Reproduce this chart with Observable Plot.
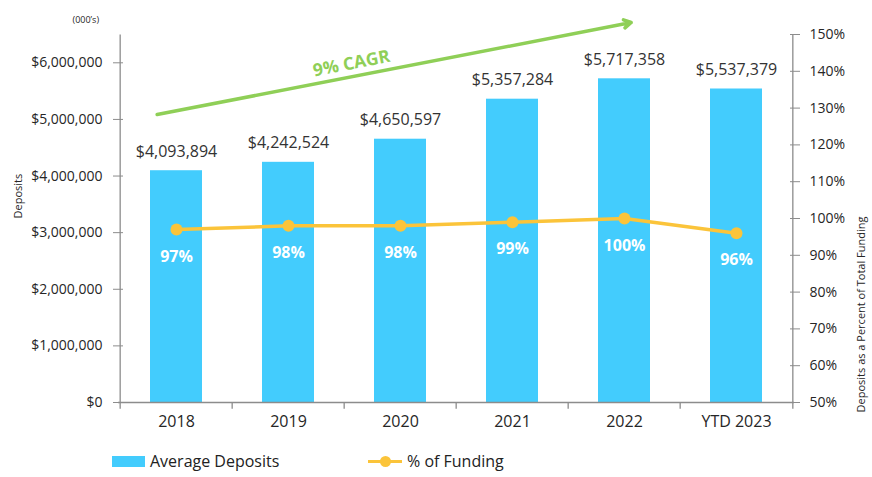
<!DOCTYPE html>
<html>
<head>
<meta charset="utf-8">
<script src="https://cdn.jsdelivr.net/npm/d3@7"></script>
<script src="https://cdn.jsdelivr.net/npm/@observablehq/plot@0.6"></script>
<style>
  html, body { margin: 0; padding: 0; background: #fff; }
  body { font-family: "Open Sans", sans-serif; width: 872px; height: 477px; overflow: hidden; }
  #wrap { position: relative; width: 872px; }
  .legend { position: relative; height: 37px; font-size: 16px; color: #222; }
  .legend .item { position: absolute; top: 10px; display: flex; align-items: center; gap: 5px; }
  .sw-bar { width: 33px; height: 11px; background: #43ccfd; }
  .sw-line { position: relative; width: 34px; height: 12px; }
  .sw-line::before { content: ""; position: absolute; left: 0; right: 0; top: 5px; height: 3px; background: #fbc43a; }
  .sw-line::after { content: ""; position: absolute; left: 12px; top: 1px; width: 11px; height: 11px; border-radius: 50%; background: #fbc43a; }
</style>
</head>
<body>
<div id="wrap"></div>
<script>
const categories = ["2018", "2019", "2020", "2021", "2022", "YTD 2023"];
const deposits = [4093894, 4242524, 4650597, 5357284, 5717358, 5537379];
const pctFunding = [97, 98, 98, 99, 100, 96];
const leftTicks = [0, 1000000, 2000000, 3000000, 4000000, 5000000, 6000000];
const rightTicks = [50, 60, 70, 80, 90, 100, 110, 120, 130, 140, 150];
const depositMax = 6500000;
const pctMin = 50, pctMax = 150;
const cagrLabel = "9% CAGR";
const cagrArrow = [{x1: "2018", y1: 5152000, x2: "2022", y2: 6689000}];

const pctToY = p => (p - pctMin) / (pctMax - pctMin) * depositMax;
const rows = categories.map((c, i) => ({cat: c, dep: deposits[i], pct: pctFunding[i], py: pctToY(pctFunding[i])}));

const W = 872, H = 440, ML = 118, MR = 78, MT = 34, MB = 38;
const half = (W - ML - MR) / categories.length / 2;
const blue = "#43ccfd", gold = "#fbc43a", green = "#8fcf57", axisColor = "#8c8c8c", textColor = "#262626";

const chart = Plot.plot({
  width: W, height: H,
  marginLeft: ML, marginRight: MR, marginTop: MT, marginBottom: MB,
  style: {fontFamily: "Open Sans, sans-serif", background: "#fff", color: textColor, overflow: "visible"},
  x: {domain: categories, paddingInner: 0.54, paddingOuter: 0.27},
  y: {domain: [0, depositMax]},
  marks: [
    Plot.barY(rows, {x: "cat", y: "dep", fill: blue}),
    // axes lines
    Plot.ruleY([0], {stroke: axisColor, strokeWidth: 1.3}),
    Plot.link([categories[0]], {x1: d => d, x2: d => d, y1: 0, y2: depositMax, dx: -half, stroke: axisColor, strokeWidth: 1.3}),
    Plot.link([categories[categories.length - 1]], {x1: d => d, x2: d => d, y1: 0, y2: depositMax, dx: half, stroke: axisColor, strokeWidth: 1.3}),
    // category boundary ticks
    Plot.link(categories, {x1: d => d, x2: d => d, y1: 0, y2: -110000, dx: -half, stroke: axisColor, strokeWidth: 1.3}),
    Plot.link([categories[categories.length - 1]], {x1: d => d, x2: d => d, y1: 0, y2: -110000, dx: half, stroke: axisColor, strokeWidth: 1.3}),
    Plot.axisX({tickSize: 0, tickPadding: 13, fontSize: 16, label: null, fill: textColor}),
    Plot.axisY({anchor: "left", ticks: leftTicks, tickFormat: d3.format("$,"), tickSize: 10, dx: 5, tickPadding: 11,
      fontSize: 14, label: null, stroke: axisColor, fill: textColor}),
    Plot.axisY({anchor: "right", ticks: rightTicks.map(pctToY),
      tickFormat: v => Math.round(v / depositMax * (pctMax - pctMin) + pctMin) + "%",
      tickSize: 10, dx: -5, tickPadding: 10, fontSize: 14, label: null, stroke: axisColor, fill: textColor}),
    // axis titles
    Plot.text(["Deposits"], {frameAnchor: "left", dx: -100, rotate: -90, fontSize: 11, fill: textColor}),
    Plot.text(["Deposits as a Percent of Total Funding"], {frameAnchor: "right", dx: 67, dy: -2, rotate: -90, fontSize: 11, fill: textColor}),
    Plot.text(["(000\u2019s)"], {frameAnchor: "top-left", dx: -46, dy: -18, fontSize: 9, fill: textColor}),
    // bar value labels
    Plot.text(rows, {x: "cat", y: "dep", text: d => d3.format("$,")(d.dep), dy: -19, fontSize: 16, fill: "#333"}),
    // percent line
    Plot.line(rows, {x: "cat", y: "py", stroke: gold, strokeWidth: 3.5, curve: "linear"}),
    Plot.dot(rows, {x: "cat", y: "py", r: 6, fill: gold}),
    Plot.text(rows, {x: "cat", y: "py", text: d => d.pct + "%", dy: 27, fill: "#fff", fontWeight: "bold", fontSize: 16}),
    // CAGR arrow
    Plot.arrow(cagrArrow, {x1: "x1", y1: "y1", x2: "x2", y2: "y2", stroke: green, strokeWidth: 3.5, headLength: 3.5,
      insetStart: -19.7, insetEnd: -6.8, bend: 0}),
    Plot.text([cagrLabel], {x: () => "2020", y: () => 6005000, dx: -49, dy: 1, rotate: -10.9, fill: green, fontWeight: "bold", fontSize: 17.5})
  ]
});

const wrap = document.getElementById("wrap");
wrap.appendChild(chart);
const legend = document.createElement("div");
legend.className = "legend";
legend.innerHTML = `
  <div class="item" style="left:112px"><span class="sw-bar"></span><span>Average Deposits</span></div>
  <div class="item" style="left:368px"><span class="sw-line"></span><span>% of Funding</span></div>`;
wrap.appendChild(legend);
</script>
</body>
</html>
